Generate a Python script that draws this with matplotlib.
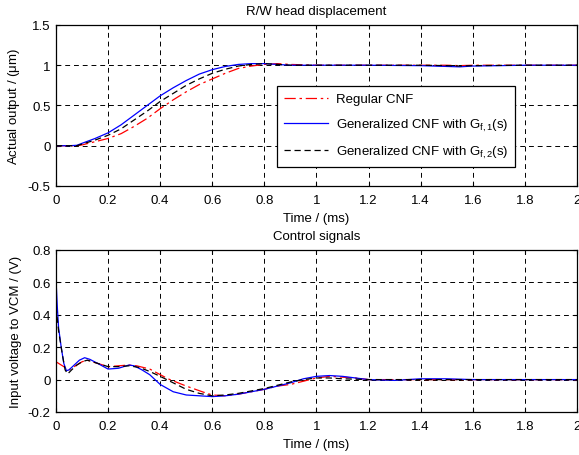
import matplotlib
matplotlib.use("Agg")
import matplotlib.pyplot as plt
import numpy as np

plt.rcParams['font.family'] = ['Liberation Sans', 'DejaVu Sans']
plt.rcParams['mathtext.fontset'] = 'custom'
plt.rcParams['mathtext.rm'] = 'Liberation Sans'
plt.rcParams['mathtext.it'] = 'Liberation Sans:italic'

# ---------------- data: displacement ----------------
t_top = [0, 0.05, 0.08, 0.1, 0.15, 0.2, 0.25, 0.3, 0.35, 0.4, 0.45, 0.5, 0.55, 0.6,
         0.65, 0.7, 0.75, 0.8, 0.85, 0.9, 1.0, 1.2, 1.4, 1.5, 1.55, 1.6, 1.8, 2.0]
disp_regular = [0, 0, 0.0, 0.01, 0.05, 0.09, 0.15, 0.24, 0.34, 0.46, 0.57, 0.67, 0.76, 0.83,
                0.9, 0.96, 0.99, 1.01, 1.02, 1.01, 1.0, 1.0, 1.0, 1.0, 0.995, 1.0, 1.0, 1.0]
disp_gf1 = [0, 0, 0.005, 0.03, 0.09, 0.16, 0.26, 0.38, 0.5, 0.62, 0.72, 0.81, 0.89, 0.945,
            0.985, 1.01, 1.02, 1.02, 1.01, 1.0, 1.0, 1.0, 0.995, 0.985, 0.98, 0.99, 1.0, 1.0]
disp_gf2 = [0, 0, 0.0, 0.02, 0.07, 0.13, 0.21, 0.32, 0.43, 0.55, 0.65, 0.75, 0.83, 0.9,
            0.95, 0.99, 1.01, 1.02, 1.01, 1.0, 1.0, 1.0, 1.0, 0.995, 0.99, 0.995, 1.0, 1.0]

# ---------------- data: control signals ----------------
t_u1 = [0, 0.005, 0.01, 0.02, 0.03, 0.04, 0.05, 0.07, 0.09, 0.11, 0.13, 0.16, 0.2, 0.24,
        0.28, 0.3, 0.33, 0.36, 0.38, 0.4, 0.45, 0.5, 0.55, 0.6, 0.65, 0.7, 0.75, 0.8,
        0.85, 0.9, 0.95, 1.0, 1.05, 1.1, 1.15, 1.2, 1.3, 1.4, 1.5, 1.6, 1.7, 1.8, 2.0]
u_gf1 = [0.62, 0.45, 0.32, 0.2, 0.1, 0.055, 0.06, 0.09, 0.12, 0.135, 0.125, 0.1, 0.065, 0.07,
         0.09, 0.085, 0.06, 0.03, 0.0, -0.03, -0.075, -0.095, -0.1, -0.105, -0.1, -0.09,
         -0.075, -0.06, -0.04, -0.02, 0.005, 0.02, 0.025, 0.02, 0.01, 0.0, -0.005, 0.005,
         0.005, 0.0, 0.0, 0.0, 0.0]

t_ur = [0, 0.02, 0.04, 0.05, 0.07, 0.1, 0.12, 0.16, 0.2, 0.24, 0.28, 0.31, 0.36, 0.43,
        0.5, 0.565, 0.6, 0.65, 0.7, 0.75, 0.8, 0.85, 0.9, 0.95, 1.0, 1.05, 1.1, 1.15,
        1.2, 1.4, 1.6, 1.8, 2.0]
u_regular = [0.11, 0.09, 0.07, 0.06, 0.08, 0.11, 0.12, 0.1, 0.08, 0.085, 0.09, 0.085, 0.065,
             0.005, -0.04, -0.077, -0.095, -0.1, -0.09, -0.075, -0.06, -0.04, -0.03, -0.01,
             0.01, 0.02, 0.015, 0.01, 0.0, 0.0, 0.0, 0.0, 0.0]

t_u2 = [0, 0.01, 0.025, 0.035, 0.045, 0.06, 0.08, 0.1, 0.12, 0.15, 0.2, 0.24, 0.28, 0.32,
        0.36, 0.4, 0.45, 0.5, 0.55, 0.6, 0.65, 0.7, 0.75, 0.8, 0.85, 0.9, 0.95, 1.0, 1.05,
        1.1, 1.2, 1.4, 1.6, 1.8, 2.0]
u_gf2 = [0.45, 0.3, 0.15, 0.06, 0.035, 0.06, 0.09, 0.11, 0.12, 0.105, 0.08, 0.08, 0.085,
         0.075, 0.05, 0.02, -0.02, -0.06, -0.085, -0.1, -0.095, -0.085, -0.07, -0.055,
         -0.035, -0.015, 0.0, 0.01, 0.01, 0.005, 0.0, 0.0, 0.0, 0.0, 0.0]

labels = ['Regular CNF',
          r'Generalized CNF with G$_{\mathrm{f,1}}$(s)',
          r'Generalized CNF with G$_{\mathrm{f,2}}$(s)']

FS = 9.5

fig = plt.figure(figsize=(5.79, 4.56), dpi=100)
ax1 = fig.add_axes([0.0967, 0.590, 0.8998, 0.353])
ax2 = fig.add_axes([0.0967, 0.0943, 0.8998, 0.3553])

red_style = dict(color='red', lw=0.9, dashes=(9, 3, 2, 3))
blue_style = dict(color='blue', lw=0.9, linestyle='-')
black_style = dict(color='black', lw=0.9, dashes=(5, 3))

ax1.plot(t_top, disp_regular, label=labels[0], **red_style)
ax1.plot(t_top, disp_gf1, label=labels[1], **blue_style)
ax1.plot(t_top, disp_gf2, label=labels[2], **black_style)

ax2.plot(t_ur, u_regular, **red_style)
ax2.plot(t_u1, u_gf1, **blue_style)
ax2.plot(t_u2, u_gf2, **black_style)

for ax in (ax1, ax2):
    ax.set_xlim(0, 2)
    ax.set_xticks(np.arange(0, 2.01, 0.2))
    ax.set_xticklabels(['0', '0.2', '0.4', '0.6', '0.8', '1', '1.2', '1.4', '1.6', '1.8', '2'])
    ax.grid(True, color='black', lw=0.7, dashes=(5, 4))
    ax.tick_params(direction='in', top=True, right=True, labelsize=FS, length=3, pad=4)
    ax.tick_params(axis='x', pad=6)
    for s in ax.spines.values():
        s.set_linewidth(0.9)
    ax.set_xlabel('Time / (ms)', fontsize=FS, labelpad=4)

ax1.set_ylim(-0.5, 1.5)
ax1.set_yticks([-0.5, 0, 0.5, 1, 1.5])
ax1.set_yticklabels(['-0.5', '0', '0.5', '1', '1.5'])
ax1.set_ylabel(r'Actual output / ($\mathrm{\mu}$m)', fontsize=FS, labelpad=4)
ax1.set_title('R/W head displacement', fontsize=FS, pad=8)

ax2.set_ylim(-0.2, 0.8)
ax2.set_yticks([-0.2, 0, 0.2, 0.4, 0.6, 0.8])
ax2.set_yticklabels(['-0.2', '0', '0.2', '0.4', '0.6', '0.8'])
ax2.set_ylabel('Input voltage to VCM / (V)', fontsize=FS, labelpad=4)
ax2.set_title('Control signals', fontsize=FS, pad=8)

leg = ax1.legend(loc='upper left', bbox_to_anchor=(0.424, 0.621), fontsize=FS,
                 fancybox=False, framealpha=1, edgecolor='black', handlelength=3.3,
                 borderpad=0.55, labelspacing=0.85, handletextpad=0.6, borderaxespad=0)
leg.get_frame().set_linewidth(0.9)

fig.savefig('out.png', dpi=100)
